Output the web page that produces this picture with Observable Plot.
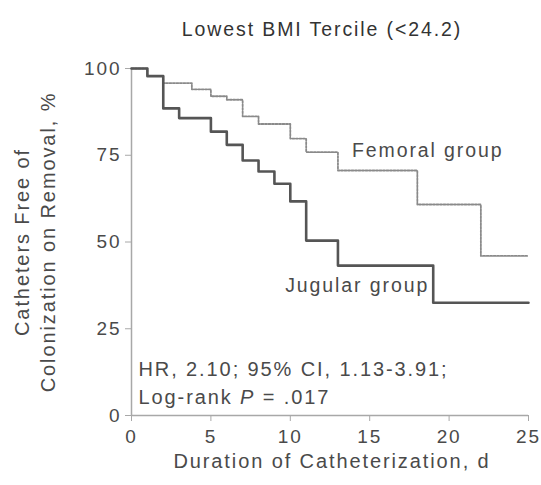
<!DOCTYPE html>
<html><head><meta charset="utf-8">
<script src="https://cdn.jsdelivr.net/npm/d3@7"></script>
<script src="https://cdn.jsdelivr.net/npm/@observablehq/plot@0.6"></script>
<style>
body{margin:0;background:#fff}
#chart svg text{letter-spacing:1.9px}
</style>
</head><body><div id="chart"></div>
<script>
const jugularDays = [0, 1, 2, 3, 5, 6, 7, 8, 9, 10, 11, 13, 19, 25];
const jugularFree = [100, 97.8, 88.5, 85.7, 81.8, 78, 73.5, 70.3, 66.8, 61.7, 50.4, 43.2, 32.5, 32.5];
const femoralDays = [0, 1, 2, 3.8, 5, 6, 7, 8, 10, 11, 13, 18, 22, 25];
const femoralFree = [100, 97.8, 95.8, 94, 92, 91, 86.2, 84, 79.8, 75.9, 70.6, 60.8, 46, 46];
const xTicks = [0, 5, 10, 15, 20, 25];
const yTicks = [0, 25, 50, 75, 100];
const title = "Lowest BMI Tercile (<24.2)";
const xLabel = "Duration of Catheterization, d";
const yLabel = "Catheters Free of\nColonization on Removal, %";
const groupLabels = ["Femoral group", "Jugular group"];
const stats = "HR, 2.10; 95% CI, 1.13-3.91;\nLog-rank P = .017";

const jugular = jugularDays.map((d, i) => ({day: d, free: jugularFree[i]}));
const femoral = femoralDays.map((d, i) => ({day: d, free: femoralFree[i]}));
const ink = "#4a4a4a";
const axisGrey = "#a8a8a8";

const chart = Plot.plot({
  width: 541, height: 485,
  marginLeft: 131, marginRight: 13, marginTop: 68, marginBottom: 70,
  style: {fontFamily: "'Liberation Sans', Arial, sans-serif", fontSize: "19px", color: ink, background: "#fff"},
  x: {domain: [0, 25], ticks: xTicks, label: null},
  y: {domain: [0, 100], ticks: yTicks, label: null},
  marks: [
    Plot.axisX({ticks: xTicks, tickSize: 6, tickPadding: 8, stroke: axisGrey, fill: ink, label: null, fontSize: 19}),
    Plot.axisY({ticks: yTicks, tickSize: 6, tickPadding: 4, stroke: axisGrey, fill: ink, label: null, fontSize: 19}),
    Plot.ruleX([0], {stroke: axisGrey, strokeWidth: 1.5}),
    Plot.ruleY([0], {stroke: axisGrey, strokeWidth: 1.5}),
    Plot.line(femoral, {x: "day", y: "free", curve: "step-after", stroke: "#8a8a8a", strokeWidth: 1.8, strokeDasharray: "2,1.5"}),
    Plot.line(jugular, {x: "day", y: "free", curve: "step-after", stroke: "#555", strokeWidth: 2.6}),
    Plot.text([femoral[10]], {x: "day", y: "free", text: () => groupLabels[0], textAnchor: "start", dx: 14, dy: -20, fontSize: 19.5, fill: ink}),
    Plot.text([jugular[10]], {x: "day", y: "free", text: () => groupLabels[1], textAnchor: "start", dx: -21, dy: 45, fontSize: 19.5, fill: ink}),
    Plot.text([stats], {frameAnchor: "bottom-left", text: d => d, textAnchor: "start", lineAnchor: "bottom", lineHeight: 1.4, dx: 7, dy: -12, fontSize: 20, fill: ink}),
    Plot.text([title], {frameAnchor: "top", text: d => d, dx: -8, dy: -46, fontSize: 19.5, fill: "#333"}),
    Plot.text([xLabel], {frameAnchor: "bottom", text: d => d, dx: 2, dy: 52, fontSize: 20, fill: ink}),
    Plot.text([yLabel], {frameAnchor: "left", text: d => d, textAnchor: "middle", rotate: -90, lineHeight: 1.3, dx: -98, dy: 0, fontSize: 20, fill: ink})
  ]
});
document.getElementById("chart").append(chart);
d3.select(chart).selectAll("tspan").each(function() {
  const t = d3.select(this).text();
  if (t.startsWith("Log-rank P")) {
    const el = d3.select(this);
    el.text("Log-rank ");
    el.append("tspan").attr("font-style", "italic").text("P");
    el.append("tspan").text(" = .017");
  }
});
</script>
</body></html>
